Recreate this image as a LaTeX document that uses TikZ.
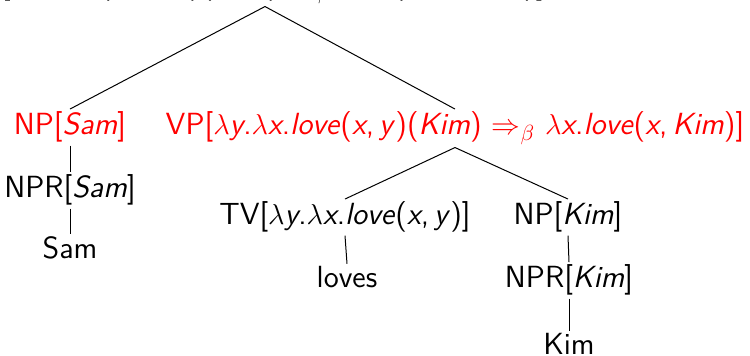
\documentclass[tikz,border=0pt]{standalone}
\usepackage{fontspec}
\newcommand{\vi}[1]{\textit{#1}}
\newcommand{\lam}{\(\lambda\)}
\begin{document}
\begin{tikzpicture}[x=0.5pt,y=-0.5pt,
  tn/.style={font=\sffamily\fontsize{15.3}{18}\selectfont, inner sep=1.3pt, anchor=base},
  hl/.style={tn, text=red},
  edge/.style={line width=0.5pt}]
\useasboundingbox (0,0) rectangle (750,356);
\node[tn] (S) at (265,-6) {S[\lam\vi{x}.\vi{love}(\vi{x},\,\vi{Kim})(\vi{Sam}) \(\Rightarrow_\beta\) \vi{love}(\vi{Sam},\,\vi{Kim})]};
\node[hl] (NP1) at (70,135) {NP[\vi{Sam}]};
\node[hl] (VP) at (455,135) {VP[\lam\vi{y}.\lam\vi{x}.\vi{love}(\vi{x},\,\vi{y})(\vi{Kim}) \(\Rightarrow_\beta\) \lam\vi{x}.\vi{love}(\vi{x},\,\vi{Kim})]};
\node[tn] (NPR1) at (70,198) {NPR[\vi{Sam}]};
\node[tn] (Sam) at (70,259) {Sam};
\node[tn] (TV) at (345,225) {TV[\lam\vi{y}.\lam\vi{x}.\vi{love}(\vi{x},\,\vi{y})]};
\node[tn] (NP2) at (568,225) {NP[\vi{Kim}]};
\node[tn] (loves) at (347,288) {loves};
\node[tn] (NPR2) at (569,288) {NPR[\vi{Kim}]};
\node[tn] (Kim) at (569,355) {Kim};
\draw[edge] (S.south) -- (NP1.north);
\draw[edge] (S.south) -- (VP.north);
\draw[edge] (NP1.south) -- (NPR1.north);
\draw[edge] (NPR1.south) -- (Sam.north);
\draw[edge] (VP.south) -- (TV.north);
\draw[edge] (VP.south) -- (NP2.north);
\draw[edge] (TV.south) -- (loves.north);
\draw[edge] (NP2.south) -- (NPR2.north);
\draw[edge] (NPR2.south) -- (Kim.north);
\end{tikzpicture}
\end{document}
